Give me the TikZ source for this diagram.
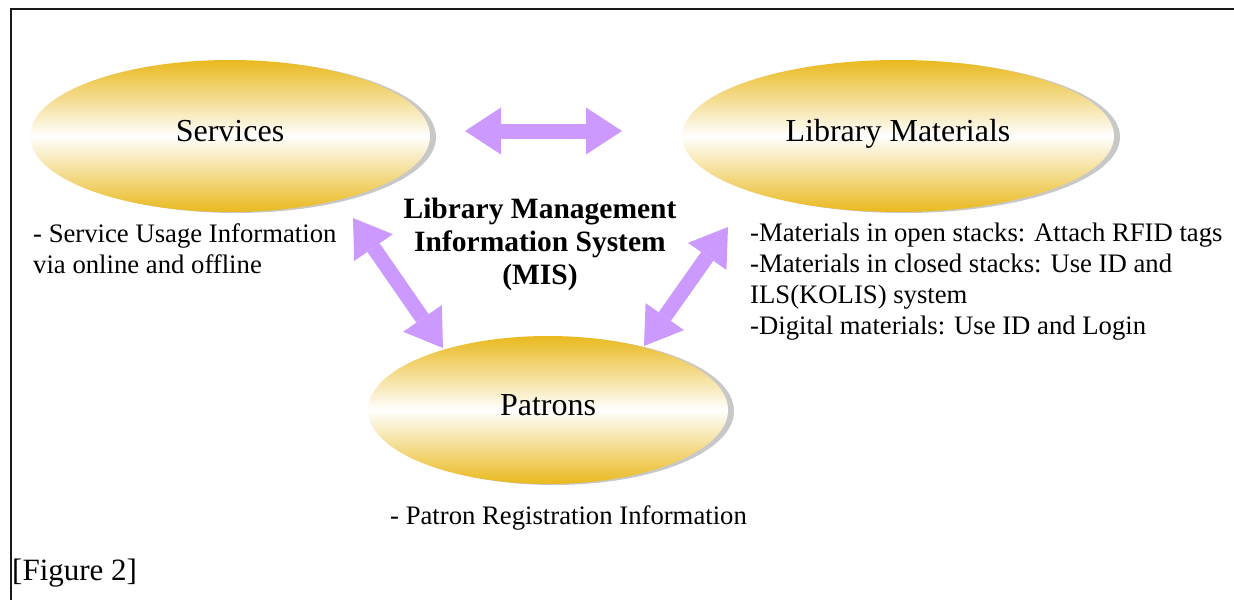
\documentclass[tikz,border=0pt]{standalone}
\usepackage{fontspec}
\setmainfont{Liberation Serif}
\usetikzlibrary{arrows.meta,shapes.geometric,shadows}
\definecolor{gold}{RGB}{233,185,30}
\definecolor{lilac}{RGB}{204,153,255}
\definecolor{shade}{RGB}{200,200,200}
\begin{document}
\begin{tikzpicture}[x=1pt,y=-1pt,
  blob/.style={ellipse, draw=none, inner sep=0pt, top color=gold, bottom color=gold, middle color=white,
    font=\fontsize{32}{36}\selectfont, text height=1.2em, text depth=0.2em,
    drop shadow={shadow xshift=6pt, shadow yshift=-1pt, fill=shade, opacity=1}},
  body/.style={inner sep=0pt, align=left, font=\fontsize{26.7}{31}\selectfont},
  biarrow/.style={draw=lilac, line width=15pt,
    {Triangle[width=47pt,length=36pt,line width=0pt]}-{Triangle[width=47pt,length=36pt,line width=0pt]}}
]
\useasboundingbox (0,0) rectangle (1234,600);
\draw[line width=2pt, black!90] (1234,9) -- (11,9) -- (11,600);

\node[blob, minimum width=400pt, minimum height=152pt] (serv) at (230,136) {Services};
\node[blob, minimum width=432pt, minimum height=152pt] (mat) at (898,136) {Library Materials};
\node[blob, minimum width=360pt, minimum height=148pt] (pat) at (548,410) {Patrons};

\node[inner sep=0pt, align=center, anchor=north, font=\bfseries\fontsize{29.5}{33}\selectfont] (mis) at (540,198)
  {Library Management\\Information System\\(MIS)};

\coordinate (h1) at (465,131);
\coordinate (h2) at (622,131);
\coordinate (l1) at (353,218);
\coordinate (l2) at (443,348);
\coordinate (r1) at (728,227);
\coordinate (r2) at (644,346);
\draw[biarrow] (h1) -- (h2);
\draw[biarrow] (l1) -- (l2);
\draw[biarrow] (r1) -- (r2);

\node[body, anchor=north west] (servtxt) at (33,223) {- Service Usage Information\\via online and offline};
\node[body, anchor=north west] (mattxt) at (750,223) {-Materials in open stacks: Attach RFID tags\\-Materials in closed stacks: Use ID and\\ILS(KOLIS) system\\-Digital materials: Use ID and Login};
\node[body, anchor=north west] (pattxt) at (390,505) {- Patron Registration Information};
\node[inner sep=0pt, anchor=base west, font=\fontsize{31}{35}\selectfont] (fig) at (12,580) {[Figure 2]};
\end{tikzpicture}
\end{document}
